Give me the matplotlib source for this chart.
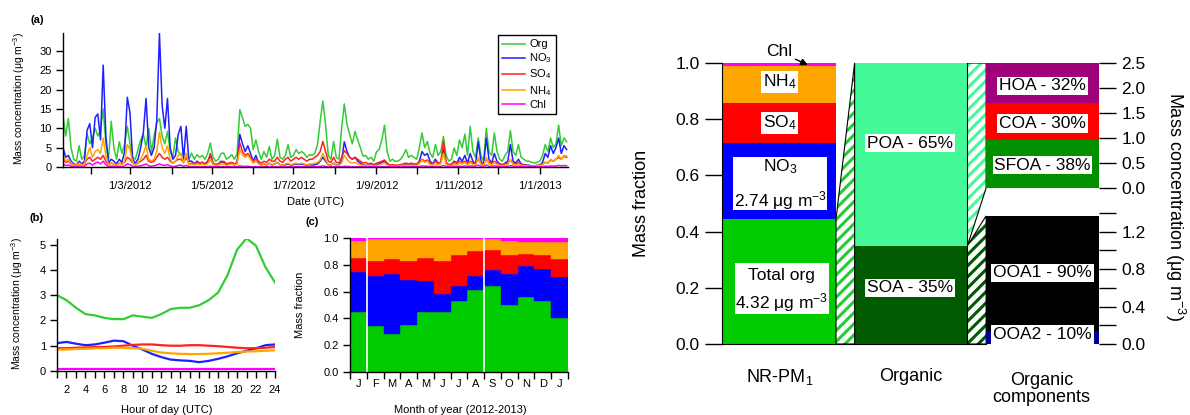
import matplotlib
matplotlib.use('Agg')
import matplotlib.pyplot as plt
import matplotlib.dates as mdates
from matplotlib.patches import Polygon, Rectangle
from matplotlib.ticker import FuncFormatter
import numpy as np
import pandas as pd

plt.rcParams['font.family'] = ['Liberation Sans', 'DejaVu Sans']
plt.rcParams['mathtext.fontset'] = 'custom'
plt.rcParams['mathtext.rm'] = 'Liberation Sans'
plt.rcParams['mathtext.it'] = 'Liberation Sans:italic'
plt.rcParams['mathtext.bf'] = 'Liberation Sans:bold'
plt.rcParams['hatch.linewidth'] = 2.2

# ---- (a) time series, every 2 days from 7 Jan 2012 (ug m-3)
ts_start = '2012-01-07'
org_ts = [5, 9, 13, 8, 12.5, 5, 2, 1.5, 5.5, 2,
          3, 8.5, 6, 7.5, 10, 8, 9.5, 15, 6, 2,
          11.8, 5, 2, 6.5, 3.5, 6, 10.5, 6, 2.5, 2,
          4.5, 7, 8.5, 5, 10, 4, 8, 11.5, 12.5, 8,
          6, 9.2, 4, 2.5, 7.5, 4, 3, 4, 3, 2,
          3.6, 2, 3.2, 2.5, 3, 2, 3.5, 6.2, 2.5, 1.5,
          2, 3.5, 3.6, 2, 2.5, 3.2, 2, 3.5, 14.8, 12.7,
          10.5, 11, 10, 4.5, 7, 4, 2, 4, 2.5, 5.3,
          2, 3, 7.2, 2.5, 2, 3, 5.8, 2.5, 3, 4.5,
          3.5, 4, 3.5, 2.5, 3.2, 3, 3.5, 5.8, 11.8, 17,
          11, 3, 2, 6.6, 2.5, 2, 10, 16.3, 11, 8.4,
          6, 9.2, 7, 5, 2.8, 3, 2, 2.5, 1.5, 3.9,
          4.5, 7, 10.8, 4, 1.5, 2, 1.5, 1.5, 2, 3,
          4.5, 2.5, 3, 2.5, 2, 5, 8.8, 5, 6.6, 3.5,
          2.5, 5.8, 3, 4, 7.9, 3, 1.5, 2, 4.9, 3,
          7, 5, 8.5, 3, 10.5, 4, 2.5, 7.5, 3, 1.5,
          10, 4, 3, 8.8, 4, 2, 1.5, 3, 4, 9.4,
          4, 3, 5.8, 2.5, 2, 1.5, 1.5, 1.2, 1, 1.2,
          1.5, 3, 5.8, 4, 7.5, 5, 6, 10.8, 5.5, 7.5, 6.5]
no3_ts = [2, 3.5, 5, 2.5, 3, 1.5, 0.8, 0.5, 1.5, 0.8,
          1.5, 9.5, 11.2, 5, 12.8, 13.7, 7, 26.3, 8, 1,
          2, 1.5, 0.8, 2, 1.2, 4, 18, 14, 2, 1,
          2, 5, 9, 17.7, 5, 3, 5, 12, 34.5, 16,
          10, 17.7, 5, 2, 3, 8.4, 10.5, 2, 10.5, 1.5,
          1.5, 0.8, 1.5, 1, 1.2, 0.8, 1.5, 3, 1, 0.6,
          0.8, 1.5, 1.2, 0.6, 0.8, 1, 0.6, 1.2, 8.4, 6,
          4, 5.5, 3.5, 1.5, 3, 1, 0.5, 0.8, 0.5, 1,
          0.5, 0.8, 1.2, 0.6, 0.5, 0.6, 0.8, 0.5, 0.6, 0.8,
          0.6, 0.8, 0.6, 0.5, 0.6, 0.5, 0.6, 0.8, 1.5, 2.5,
          1.5, 0.6, 0.5, 1, 0.5, 0.4, 1.5, 6.5, 4, 2.5,
          2, 2.5, 1.5, 1, 0.5, 0.5, 0.4, 0.5, 0.3, 0.6,
          0.8, 1.2, 1.5, 0.8, 0.3, 0.4, 0.3, 0.3, 0.4, 0.5,
          0.8, 0.5, 0.8, 0.6, 0.5, 1.5, 4, 3, 3.5, 1.5,
          0.8, 2, 1, 1.2, 4.5, 1, 0.5, 0.6, 1.5, 1,
          2.5, 1.5, 3, 1, 3.5, 1.5, 0.8, 6.5, 1.5, 0.6,
          7.5, 2, 1, 3.5, 1.5, 0.8, 0.5, 1, 1.5, 5.8,
          1.5, 1, 2, 0.8, 0.6, 0.5, 0.4, 0.3, 0.3, 0.4,
          0.5, 1.2, 3.5, 2.5, 5.5, 3.5, 5, 7.5, 3.5, 5.5, 4.5]
so4_ts = [1, 1.5, 2, 1.2, 1.5, 0.8, 0.5, 0.5, 1, 0.6,
          0.8, 2, 2.5, 1.5, 2, 2.5, 2, 3, 1.5, 0.6,
          1, 0.8, 0.5, 1, 0.8, 1.2, 2.5, 2, 1, 0.6,
          1, 1.5, 2, 3, 1.5, 1.2, 1.5, 2.5, 3.5, 2.5,
          2, 2.5, 1.5, 1, 1.5, 2, 2, 1.2, 2.5, 0.8,
          1, 0.8, 1, 1, 1.2, 0.8, 1.2, 3.5, 1, 0.6,
          0.8, 1.2, 1.5, 0.8, 1, 1.2, 0.8, 1.2, 6.2, 4,
          3, 3.5, 2.5, 1.5, 2, 1.5, 1, 1.5, 1.2, 2,
          1.5, 1.5, 2.5, 1.5, 1.2, 2, 2.5, 1.5, 2, 2.5,
          2, 2.5, 2, 1.5, 2, 2, 2.5, 3, 4, 6.6,
          4, 1.5, 1.2, 2.5, 1.2, 1, 2.5, 4.2, 3.5, 2.5,
          2, 2.5, 2, 1.5, 1, 1.2, 0.8, 1, 0.6, 1,
          1.2, 1.5, 1.8, 1, 0.5, 0.6, 0.5, 0.5, 0.6, 0.8,
          1, 0.8, 1, 0.8, 0.8, 1.2, 2, 1.5, 1.8, 1,
          0.8, 1.5, 1, 1.2, 6.6, 1.2, 0.6, 0.8, 1.2, 1,
          1.5, 1.2, 1.5, 1, 1.5, 1, 0.8, 2, 1, 0.6,
          2, 1.2, 1, 1.5, 1, 0.8, 0.6, 0.8, 1, 1.8,
          1, 0.8, 1.2, 0.6, 0.5, 0.4, 0.4, 0.3, 0.3, 0.4,
          0.5, 0.8, 1.2, 1, 1.8, 1.5, 2, 2.5, 2, 2.8, 2.5]
nh4_ts = [1, 2, 3, 1.5, 2, 1, 0.5, 0.4, 1, 0.5,
          0.8, 3, 5, 2.5, 4, 4.5, 3.5, 7.5, 3, 0.6,
          1, 0.8, 0.5, 1, 0.6, 1.5, 5.8, 4.5, 1, 0.5,
          1, 2, 3.5, 5.5, 2, 1.5, 2, 4, 9, 5,
          3.5, 5.5, 2, 1, 1.5, 3, 3.5, 1, 3.5, 0.6,
          0.8, 0.5, 0.8, 0.6, 0.8, 0.5, 0.8, 2, 0.6, 0.4,
          0.5, 0.8, 0.8, 0.4, 0.6, 0.8, 0.5, 0.8, 4.5, 3,
          2.5, 3, 2, 1, 1.5, 0.8, 0.5, 0.8, 0.6, 1,
          0.6, 0.8, 1.2, 0.6, 0.5, 0.8, 1, 0.6, 0.8, 1,
          0.8, 1, 0.8, 0.6, 0.8, 0.8, 1, 1.2, 1.8, 3.5,
          2, 0.6, 0.5, 1, 0.5, 0.4, 1, 3, 2, 1.2,
          1, 1.2, 0.8, 0.6, 0.4, 0.5, 0.3, 0.4, 0.3, 0.4,
          0.5, 0.8, 1, 0.5, 0.2, 0.3, 0.2, 0.2, 0.3, 0.4,
          0.5, 0.4, 0.5, 0.4, 0.4, 0.8, 1.8, 1.2, 1.5, 0.6,
          0.5, 1, 0.6, 0.8, 3.5, 0.6, 0.3, 0.4, 0.8, 0.5,
          1, 0.8, 1.2, 0.5, 1.2, 0.6, 0.4, 2.5, 0.6, 0.3,
          2.5, 0.8, 0.5, 1.2, 0.6, 0.4, 0.3, 0.5, 0.6, 2,
          0.6, 0.5, 0.8, 0.4, 0.3, 0.3, 0.2, 0.2, 0.2, 0.3,
          0.4, 0.6, 1.2, 1, 2, 1.5, 2, 3, 2, 3, 2.8]
chl_ts = [0.3, 0.5, 0.8, 0.4, 0.5, 0.2, 0.1, 0.1, 0.3, 0.1,
          0.2, 0.8, 1.0, 0.5, 1.0, 1.3, 0.8, 1.5, 0.6, 0.1,
          0.2, 0.2, 0.1, 0.2, 0.1, 0.3, 0.8, 0.6, 0.2, 0.1,
          0.2, 0.3, 0.5, 0.8, 0.3, 0.2, 0.3, 0.5, 0.8, 0.5,
          0.4, 0.6, 0.3, 0.1, 0.2, 0.4, 0.5, 0.2, 0.4, 0.1,
          0.1, 0.05, 0.1, 0.05, 0.1, 0.05, 0.1, 0.2, 0.05, 0.05,
          0.05, 0.1, 0.1, 0.05, 0.05, 0.1, 0.05, 0.1, 0.3, 0.2,
          0.15, 0.2, 0.1, 0.05, 0.1, 0.05, 0.05, 0.05, 0.05, 0.1,
          0.05, 0.05, 0.1, 0.05, 0.05, 0.05, 0.1, 0.05, 0.05, 0.1,
          0.05, 0.1, 0.05, 0.05, 0.05, 0.05, 0.1, 0.1, 0.15, 0.3,
          0.15, 0.05, 0.05, 0.1, 0.05, 0.05, 0.1, 0.2, 0.15, 0.1,
          0.1, 0.1, 0.05, 0.05, 0.05, 0.05, 0.05, 0.05, 0.05, 0.05,
          0.05, 0.1, 0.1, 0.05, 0.05, 0.05, 0.05, 0.05, 0.05, 0.05,
          0.1, 0.05, 0.1, 0.05, 0.05, 0.1, 0.3, 0.2, 0.2, 0.1,
          0.1, 0.2, 0.1, 0.15, 0.4, 0.1, 0.05, 0.1, 0.2, 0.1,
          0.2, 0.15, 0.3, 0.1, 0.3, 0.15, 0.1, 0.5, 0.15, 0.05,
          0.5, 0.2, 0.1, 0.3, 0.15, 0.1, 0.05, 0.1, 0.15, 0.4,
          0.15, 0.1, 0.2, 0.1, 0.05, 0.05, 0.05, 0.05, 0.05, 0.05,
          0.05, 0.1, 0.2, 0.15, 0.3, 0.2, 0.3, 0.4, 0.3, 0.4, 0.3]

# ---- (b) diurnal cycles, hours 1..24
hours = np.arange(1, 25)
org_hr = [3.0, 2.8, 2.5, 2.25, 2.2, 2.1, 2.05, 2.05, 2.2, 2.15, 2.1, 2.25,
          2.45, 2.5, 2.5, 2.6, 2.8, 3.1, 3.8, 4.8, 5.25, 4.95, 4.1, 3.5]
no3_hr = [1.1, 1.15, 1.08, 1.02, 1.05, 1.12, 1.2, 1.18, 1.0, 0.85, 0.68, 0.55,
          0.45, 0.42, 0.4, 0.35, 0.4, 0.48, 0.58, 0.7, 0.8, 0.9, 1.02, 1.05]
so4_hr = [0.9, 0.9, 0.92, 0.93, 0.95, 0.95, 0.97, 1.0, 1.03, 1.05, 1.05, 1.02,
          1.0, 1.0, 1.02, 1.02, 1.0, 0.98, 0.95, 0.92, 0.9, 0.9, 0.92, 0.95]
nh4_hr = [0.85, 0.85, 0.87, 0.88, 0.9, 0.9, 0.92, 0.92, 0.9, 0.88, 0.8, 0.73,
          0.7, 0.68, 0.67, 0.67, 0.68, 0.7, 0.72, 0.75, 0.77, 0.78, 0.8, 0.82]
chl_hr = [0.08] * 24

# ---- (c) monthly mass fractions, Jan 2012 .. Jan 2013
month_labels = ['J', 'F', 'M', 'A', 'M', 'J', 'J', 'A', 'S', 'O', 'N', 'D', 'J']
org_mon = [0.45, 0.34, 0.28, 0.35, 0.45, 0.45, 0.53, 0.61, 0.64, 0.50, 0.56, 0.53, 0.40]
no3_mon = [0.30, 0.38, 0.45, 0.34, 0.23, 0.13, 0.11, 0.11, 0.12, 0.23, 0.23, 0.24, 0.31]
so4_mon = [0.10, 0.11, 0.11, 0.14, 0.17, 0.25, 0.23, 0.18, 0.15, 0.14, 0.09, 0.10, 0.13]
nh4_mon = [0.13, 0.16, 0.155, 0.165, 0.145, 0.165, 0.125, 0.095, 0.08, 0.11, 0.09, 0.10, 0.13]
chl_mon = [0.02, 0.01, 0.005, 0.005, 0.005, 0.005, 0.005, 0.005, 0.01, 0.02, 0.03, 0.03, 0.03]

# ---- right panel
nr_frac = [0.445, 0.27, 0.142, 0.133, 0.01]   # Org, NO3, SO4, NH4, Chl
org_split = [0.35, 0.65]            # SOA, POA
poa_conc = [0.95, 0.75, 0.80]       # SFOA, COA, HOA
soa_conc = [0.137, 1.233]           # OOA2, OOA1

c_org, c_no3, c_so4, c_nh4, c_chl = '#00CC00', '#0000FF', '#FF0000', '#FFA500', '#FF00FF'
line_cols = ['#33CC33', '#2020FF', '#FF2020', '#FFA500', '#FF00FF']
leg_labels = ['Org', 'NO$_3$', 'SO$_4$', 'NH$_4$', 'Chl']

W, H = 1190, 415
fig = plt.figure(figsize=(W / 100, H / 100), dpi=100)


def add_ax(l, t, r, b):
    return fig.add_axes([l / W, 1 - b / H, (r - l) / W, (b - t) / H])


def igor(ax, fs=8):
    for s in ['top', 'right']:
        ax.spines[s].set_visible(False)
    for s in ['left', 'bottom']:
        ax.spines[s].set_linewidth(1.0)
    ax.tick_params(which='both', direction='out', length=5, width=1, labelsize=fs, pad=3)


# (a)
ax_a = add_ax(63, 33, 568, 167)
igor(ax_a)
dates = pd.date_range(ts_start, periods=len(org_ts), freq='2D')
for vals, c, lab in zip([org_ts, no3_ts, so4_ts, nh4_ts, chl_ts], line_cols, leg_labels):
    ax_a.plot(dates, vals, color=c, lw=1.1, label=lab)
ax_a.set_xlim(pd.Timestamp('2012-01-11'), pd.Timestamp('2013-01-22'))
ax_a.set_ylim(0, 34.6)
ax_a.set_yticks(range(0, 31, 5))
ax_a.xaxis.set_major_locator(mdates.MonthLocator(bymonth=[1, 3, 5, 7, 9, 11]))
ax_a.xaxis.set_minor_locator(mdates.MonthLocator(bymonth=[2, 4, 6, 8, 10, 12]))
ax_a.xaxis.set_major_formatter(FuncFormatter(
    lambda x, p: '%d/%d/%d' % (mdates.num2date(x).day, mdates.num2date(x).month, mdates.num2date(x).year)))
ax_a.tick_params(axis='x', which='both', pad=5)
leg = ax_a.legend(loc='upper left', bbox_to_anchor=(498 / W, 1 - 35 / H), bbox_transform=fig.transFigure,
                  fontsize=8, fancybox=False, edgecolor='black', framealpha=1, handlelength=2.0,
                  handletextpad=0.4, labelspacing=0.2, borderpad=0.4, borderaxespad=0)
leg.get_frame().set_linewidth(1.0)
fig.text(37 / W, 1 - 20 / H, '(a)', fontsize=8, fontweight='bold', ha='center', va='center')
fig.text(19 / W, 1 - 98 / H, 'Mass concentration (μg m$^{-3}$)', rotation=90, fontsize=7.5,
         ha='center', va='center')
fig.text(316 / W, 1 - 202 / H, 'Date (UTC)', fontsize=8, ha='center', va='center')

# (b)
ax_b = add_ax(57, 239, 275, 371)
igor(ax_b)
for vals, c in zip([org_hr, no3_hr, so4_hr, nh4_hr, chl_hr], line_cols):
    ax_b.plot(hours, vals, color=c, lw=1.6)
ax_b.set_xlim(1, 24)
ax_b.set_ylim(0, 5.22)
ax_b.set_xticks(range(2, 25, 2))
ax_b.set_xticks(range(1, 25), minor=True)
ax_b.set_yticks(range(0, 6))
ax_b.tick_params(axis='x', which='both', pad=5)
fig.text(37 / W, 1 - 218 / H, '(b)', fontsize=8, fontweight='bold', ha='center', va='center')
fig.text(17 / W, 1 - 303 / H, 'Mass concentration (μg m$^{-3}$)', rotation=90, fontsize=7.5,
         ha='center', va='center')
fig.text(167 / W, 1 - 410 / H, 'Hour of day (UTC)', fontsize=8, ha='center', va='center')

# (c)
ax_c = add_ax(350, 238, 568, 372)
igor(ax_c)
months = np.arange(len(month_labels))
bottom = np.zeros(len(months))
for frac, c in zip([org_mon, no3_mon, so4_mon, nh4_mon, chl_mon], [c_org, c_no3, c_so4, c_nh4, c_chl]):
    ax_c.bar(months + 0.5, frac, width=1.0, bottom=bottom, color=c, edgecolor=c, lw=0.3)
    bottom += np.array(frac)
ax_c.vlines([1, 8], 0, 1, color='white', lw=1.2)
ax_c.set_xlim(0, 13)
ax_c.set_ylim(0, 1)
ax_c.set_yticks(np.arange(0, 1.01, 0.2))
ax_c.yaxis.set_major_formatter(FuncFormatter(lambda v, p: '%.1f' % v))
ax_c.set_xticks(np.arange(14))
ax_c.set_xticklabels([])
ax_c.set_xticks(months + 0.5, minor=True)
ax_c.set_xticklabels(month_labels, minor=True)
ax_c.tick_params(axis='x', which='minor', length=0, pad=5)
fig.text(312 / W, 1 - 222 / H, '(c)', fontsize=8, fontweight='bold', ha='center', va='center')
fig.text(300 / W, 1 - 305 / H, 'Mass fraction', rotation=90, fontsize=8, ha='center', va='center')
fig.text(460 / W, 1 - 410 / H, 'Month of year (2012-2013)', fontsize=8, ha='center', va='center')

# right panel
R_TOP, R_BOT, UP_BOT, LO_TOP = 63, 344, 188, 213
LO_MAX = 1.4
ax_r = add_ax(722, R_TOP, 1099, R_BOT)
ax_r.set_xlim(-0.01, 3.33)
ax_r.set_ylim(0, 1)
for s in ['top', 'right']:
    ax_r.spines[s].set_visible(False)
ax_r.spines['bottom'].set_bounds(-0.01, 2.33)
ax_r.set_xticks([])
ax_r.set_yticks(np.arange(0, 1.01, 0.2))
ax_r.yaxis.set_major_formatter(FuncFormatter(lambda v, p: '%.1f' % v))
ax_r.tick_params(axis='y', direction='out', length=12, width=1, labelsize=12.5, pad=4)

b = 0
for f, c in zip(nr_frac, [c_org, c_no3, c_so4, c_nh4, c_chl]):
    ax_r.bar(0.5, f, width=1.0, bottom=b, color=c, lw=0)
    b += f
ax_r.bar(1.665, org_split[0], width=1.0, bottom=0, color='#005A00', lw=0)
ax_r.bar(1.665, org_split[1], width=1.0, bottom=org_split[0], color='#44FA98', lw=0)

up_bot_frac = (R_BOT - UP_BOT) / (R_BOT - R_TOP)
lo_top_frac = (sum(soa_conc) / LO_MAX) * (R_BOT - LO_TOP) / (R_BOT - R_TOP)
hatch_polys = [
    ([(1.0, 0), (1.0, nr_frac[0]), (1.165, 1.0), (1.165, 0)], '#22CC33'),
    ([(2.165, org_split[0]), (2.165, 1.0), (2.33, 1.0), (2.33, up_bot_frac)], '#44FA98'),
    ([(2.165, 0), (2.165, org_split[0]), (2.33, lo_top_frac), (2.33, 0)], '#005A00'),
]
for pts, hc in hatch_polys:
    ax_r.add_patch(Polygon(pts, closed=True, facecolor='white', edgecolor=hc, hatch='///', lw=0))
    ax_r.add_patch(Polygon(pts, closed=True, fill=False, edgecolor='black', lw=0.8))

box = dict(facecolor='white', edgecolor='none', pad=1.2)
fs = 12.5
ax_r.text(0.5, 0.932, 'NH$_4$', ha='center', va='center', fontsize=fs, bbox=box)
ax_r.text(0.5, 0.786, 'SO$_4$', ha='center', va='center', fontsize=fs, bbox=box)
ax_r.add_patch(Rectangle((0.09, 0.477), 0.83, 0.188, facecolor='white', lw=0))
ax_r.text(0.505, 0.63, 'NO$_3$', ha='center', va='center', fontsize=fs)
ax_r.text(0.505, 0.512, '2.74 μg m$^{-3}$', ha='center', va='center', fontsize=fs)
ax_r.add_patch(Rectangle((0.105, 0.107), 0.835, 0.181, facecolor='white', lw=0))
ax_r.text(0.52, 0.245, 'Total org', ha='center', va='center', fontsize=fs)
ax_r.text(0.52, 0.149, '4.32 μg m$^{-3}$', ha='center', va='center', fontsize=fs)
ax_r.annotate('Chl', xy=(0.75, 0.993), xytext=(0.50, 1.04), fontsize=fs, ha='center', va='center',
              annotation_clip=False,
              arrowprops=dict(arrowstyle='-|>', color='black', lw=1, mutation_scale=10, shrinkA=0, shrinkB=0))
ax_r.text(1.654, 0.715, 'POA - 65%', ha='center', va='center', fontsize=fs, bbox=box)
ax_r.text(1.654, 0.2, 'SOA - 35%', ha='center', va='center', fontsize=fs, bbox=box)
ax_r.text(0.5, -0.117, 'NR-PM$_1$', ha='center', va='center', fontsize=13, clip_on=False)
ax_r.text(1.665, -0.117, 'Organic', ha='center', va='center', fontsize=13, clip_on=False)
ax_r.text(2.82, -0.16, 'Organic\ncomponents', ha='center', va='center', fontsize=13,
          linespacing=1.05, clip_on=False)

ax_up = add_ax(986, R_TOP, 1099, UP_BOT)
ax_lo = add_ax(986, LO_TOP, 1099, R_BOT)
for ax in (ax_up, ax_lo):
    for s in ['top', 'left', 'bottom', 'right']:
        ax.spines[s].set_visible(False)
    ax.set_xlim(0, 1)
    ax.set_xticks([])
    ax.yaxis.tick_right()
    ax.tick_params(axis='y', which='both', direction='out', length=12, width=1, labelsize=12.5, pad=4)
    ax.yaxis.set_major_formatter(FuncFormatter(lambda v, p: '%.1f' % v))

b = 0
for v, c in zip(poa_conc, ['#009000', '#FF0000', '#A0007A']):
    ax_up.bar(0.5, v, width=1.0, bottom=b, color=c, lw=0)
    b += v
ax_up.set_ylim(0, 2.5)
ax_up.set_yticks(np.arange(0, 2.51, 0.5))
ax_up.text(0.5, 2.04, 'HOA - 32%', ha='center', va='center', fontsize=fs, bbox=box)
ax_up.text(0.5, 1.29, 'COA - 30%', ha='center', va='center', fontsize=fs, bbox=box)
ax_up.text(0.5, 0.46, 'SFOA - 38%', ha='center', va='center', fontsize=fs, bbox=box)

b = 0
for v, c in zip(soa_conc, ['#000099', '#000000']):
    ax_lo.bar(0.5, v, width=1.0, bottom=b, color=c, lw=0)
    b += v
ax_lo.set_ylim(0, LO_MAX)
ax_lo.set_yticks([0, 0.4, 0.8, 1.2])
ax_lo.set_yticks([0.2, 0.6, 1.0, 1.4], minor=True)
ax_lo.text(0.5, 0.76, 'OOA1 - 90%', ha='center', va='center', fontsize=fs, bbox=box)
ax_lo.text(0.5, 0.1, 'OOA2 - 10%', ha='center', va='center', fontsize=fs, bbox=box)

fig.text(642 / W, 1 - 203 / H, 'Mass fraction', rotation=90, fontsize=13, ha='center', va='center')
fig.text(1175 / W, 1 - 207 / H, 'Mass concentration (μg m$^{-3}$)', rotation=270, fontsize=13,
         ha='center', va='center')

fig.savefig('out.png', dpi=100)
